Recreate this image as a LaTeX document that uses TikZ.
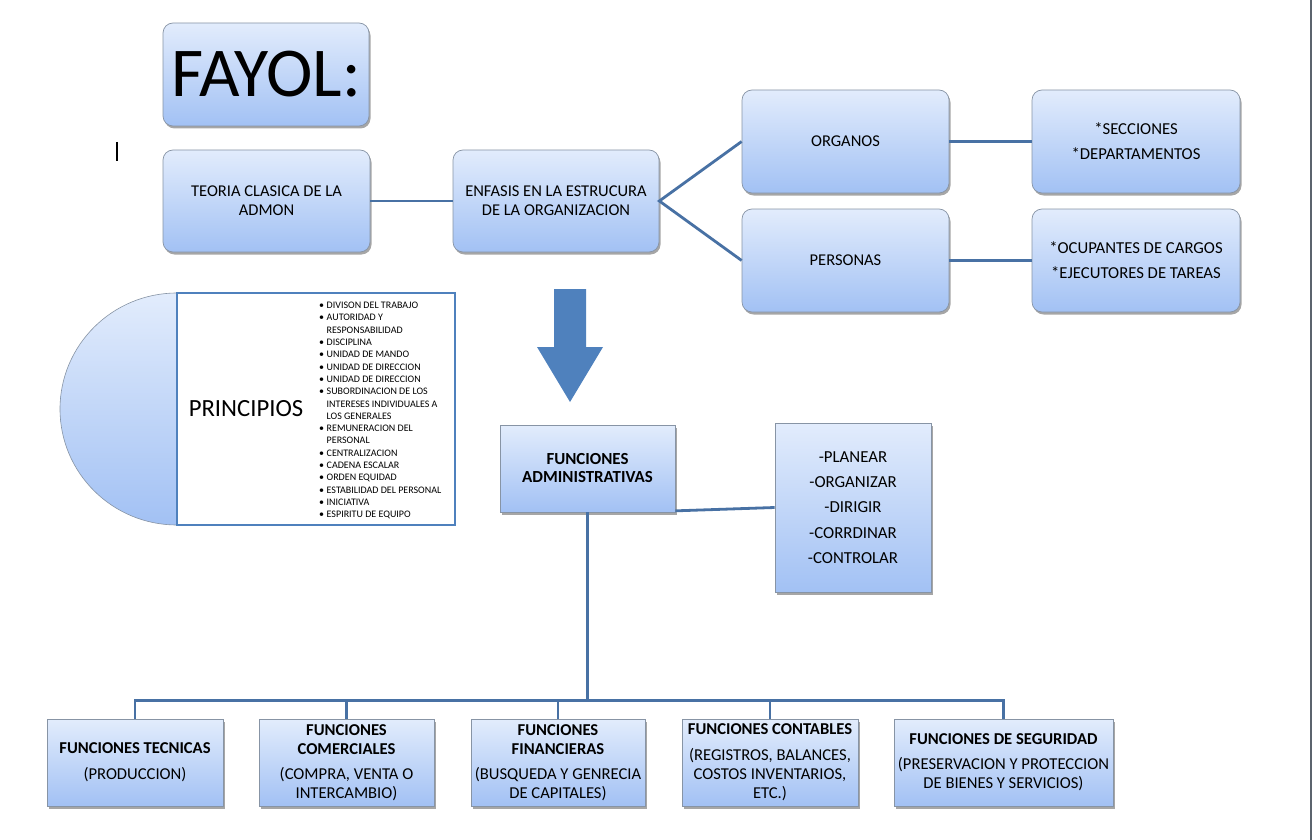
\documentclass[tikz,border=0pt]{standalone}
\usepackage{fontspec}
\setmainfont{Carlito}
\usetikzlibrary{shadows}
\definecolor{gtop}{RGB}{226,236,252}
\definecolor{gbot}{RGB}{162,193,244}
\definecolor{bordergray}{RGB}{135,148,165}
\definecolor{linkblue}{RGB}{72,113,164}
\definecolor{arrowblue}{RGB}{79,129,189}
\definecolor{edgegray}{RGB}{92,100,110}
\newcommand\pbul[1]{\makebox[7.5pt][l]{•}#1}
\newcommand\pcont[1]{\hspace*{7.5pt}#1}
\tikzset{
  boxbase/.style={draw=bordergray, line width=0.7pt, top color=gtop, bottom color=gbot,
    align=center, inner sep=2pt, text=black,
    drop shadow={shadow xshift=1.5pt, shadow yshift=-2.5pt, opacity=0.35, fill=black}},
  rbox/.style={boxbase, rounded corners=10pt, font=\fontsize{16.5}{19}\selectfont},
  rbox2/.style={boxbase, rounded corners=10pt, font=\fontsize{16.7}{25}\selectfont},
  sbox/.style={boxbase, font=\fontsize{16.6}{19}\selectfont},
  link/.style={draw=linkblue, line width=2.8pt},
}
\begin{document}
\begin{tikzpicture}[x=1pt,y=-1pt]
\fill[white] (0,0) rectangle (1315,840);
\useasboundingbox (0,0) rectangle (1315,840);

% top boxes
\node[rbox, minimum width=206pt, minimum height=103pt, font=\fontsize{70}{70}\selectfont] (fayol) at (266,74.5) {FAYOL:};
\node[rbox, minimum width=207pt, minimum height=102pt] (teoria) at (266.5,201) {TEORIA CLASICA DE LA\\ADMON};
\node[rbox, minimum width=206pt, minimum height=102pt] (enfasis) at (556,201) {ENFASIS EN LA ESTRUCURA\\DE LA ORGANIZACION};
\node[rbox, minimum width=207pt, minimum height=103pt] (organos) at (845.5,141.5) {ORGANOS};
\node[rbox2, minimum width=208pt, minimum height=103pt] (secc) at (1136,141.5) {*SECCIONES\\*DEPARTAMENTOS};
\node[rbox, minimum width=207pt, minimum height=103pt] (personas) at (845.5,260.5) {PERSONAS};
\node[rbox2, minimum width=208pt, minimum height=103pt] (ocup) at (1136,260.5) {*OCUPANTES DE CARGOS\\*EJECUTORES DE TAREAS};

\draw[link] (teoria.east) -- (enfasis.west);
\draw[link] (organos.west) -- (enfasis.east) -- (personas.west);
\draw[link] (organos.east) -- (secc.west);
\draw[link] (personas.east) -- (ocup.west);

% cursor
\draw[black, line width=1.3pt] (117,142) -- (117,161);

% principles
\path[draw=bordergray, line width=0.6pt, top color=gtop, bottom color=gbot]
  (177,293) .. controls (112.4,293) and (60,345) .. (60,409)
  .. controls (60,473) and (112.4,525) .. (177,525) -- cycle;
\node[draw=arrowblue, line width=1.2pt, fill=white, minimum width=278pt, minimum height=232pt, inner sep=0pt] (prbox) at (316,409) {};
\node[font=\fontsize{24.7}{24.7}\selectfont, inner sep=0pt] (princ) at (246,409) {PRINCIPIOS};
\node[anchor=north west, inner sep=0pt, align=left, font=\fontsize{10}{12.3}\selectfont] (plist) at (319,302) {%
\pbul{DIVISON DEL TRABAJO}\\
\pbul{AUTORIDAD Y}\\
\pcont{RESPONSABILIDAD}\\
\pbul{DISCIPLINA}\\
\pbul{UNIDAD DE MANDO}\\
\pbul{UNIDAD DE DIRECCION}\\
\pbul{UNIDAD DE DIRECCION}\\
\pbul{SUBORDINACION DE LOS}\\
\pcont{INTERESES INDIVIDUALES A}\\
\pcont{LOS GENERALES}\\
\pbul{REMUNERACION DEL}\\
\pcont{PERSONAL}\\
\pbul{CENTRALIZACION}\\
\pbul{CADENA ESCALAR}\\
\pbul{ORDEN EQUIDAD}\\
\pbul{ESTABILIDAD DEL PERSONAL}\\
\pbul{INICIATIVA}\\
\pbul{ESPIRITU DE EQUIPO}};

% big arrow
\fill[arrowblue] (554,289) -- (586,289) -- (586,347) -- (603,347) -- (570,402) -- (537,347) -- (554,347) -- cycle;

% administrative functions
\node[sbox, minimum width=175pt, minimum height=87pt, font=\bfseries\fontsize{16.9}{18}\selectfont] (fadm) at (587.5,468.5) {FUNCIONES\\ADMINISTRATIVAS};
\node[sbox, minimum width=156pt, minimum height=169pt, font=\fontsize{16.8}{25.3}\selectfont] (plan) at (853,507.5) {-PLANEAR\\-ORGANIZAR\\-DIRIGIR\\-CORRDINAR\\-CONTROLAR};
\draw[link] ([yshift=1.5pt]fadm.south east) -- (plan.west);

% bottom functions
\node[sbox, minimum width=176pt, minimum height=87pt] (tec) at (135,762.5) {\textbf{FUNCIONES TECNICAS}\\[7pt](PRODUCCION)};
\node[sbox, minimum width=175pt, minimum height=87pt] (com) at (346.5,762.5) {\textbf{FUNCIONES}\\\textbf{COMERCIALES}\\[6pt](COMPRA, VENTA O\\INTERCAMBIO)};
\node[sbox, minimum width=174pt, minimum height=87pt] (fin) at (558,762.5) {\textbf{FUNCIONES}\\\textbf{FINANCIERAS}\\[6pt](BUSQUEDA Y GENRECIA\\DE CAPITALES)};
\node[sbox, minimum width=176pt, minimum height=87pt] (cont) at (770,762.5) {\textbf{FUNCIONES CONTABLES}\\[7pt](REGISTROS, BALANCES,\\COSTOS INVENTARIOS,\\ETC.)};
\node[sbox, minimum width=219pt, minimum height=87pt] (seg) at (1003.5,762.5) {\textbf{FUNCIONES DE SEGURIDAD}\\[6pt](PRESERVACION Y PROTECCION\\DE BIENES Y SERVICIOS)};

\coordinate (bus) at (588,700.7);
\draw[link] (fadm.south) -- (fadm.south |- bus);
\draw[link] (tec.north) -- (tec.north |- bus) -- (seg.north |- bus) -- (seg.north);
\draw[link] (com.north) -- (com.north |- bus);
\draw[link] (fin.north) -- (fin.north |- bus);
\draw[link] (cont.north) -- (cont.north |- bus);

% right edge
\draw[edgegray, line width=2pt] (1311,0) -- (1311,840);
\end{tikzpicture}
\end{document}
